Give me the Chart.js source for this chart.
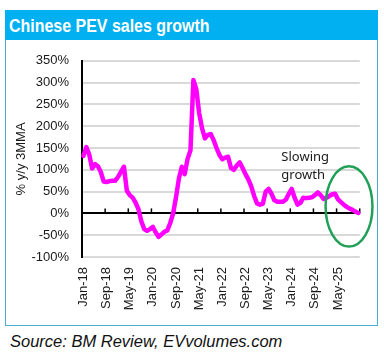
<!DOCTYPE html>
<html>
<head>
<meta charset="utf-8">
<script src="https://cdn.jsdelivr.net/npm/chart.js@4.4.0/dist/chart.umd.min.js"></script>
<style>
  body { margin: 0; background: #fff; width: 384px; height: 358px; position: relative; overflow: hidden; font-family: "Liberation Sans", Arial, sans-serif; }
  #box { position: absolute; left: 5px; top: 10px; width: 373px; height: 316px; box-sizing: border-box; border: 1px solid #4aaed0; }
  #hdr { position: absolute; left: 5px; top: 10px; width: 373px; height: 30px; background: #00b0f0; }
  #hdr span { position: absolute; left: 4px; top: 1px; line-height: 30px; font-size: 19px; font-weight: bold; color: #fff; white-space: nowrap; transform: scaleX(0.84); transform-origin: left center; }
  #src { position: absolute; left: 10px; top: 331px; line-height: 20px; font-size: 16.5px; font-style: italic; color: #111; white-space: nowrap; }
  #c { position: absolute; left: 0; top: 40px; }
</style>
</head>
<body>
<div id="box"></div>
<div id="hdr"><span>Chinese PEV sales growth</span></div>
<canvas id="c" width="384" height="285"></canvas>
<div id="src">Source: BM Review, EVvolumes.com</div>
<script>
// months Jan-18 .. Dec-25
const monthNames = ['Jan','Feb','Mar','Apr','May','Jun','Jul','Aug','Sep','Oct','Nov','Dec'];
const years = [18, 19, 20, 21, 22, 23, 24, 25];
const labels = [];
years.forEach(y => monthNames.forEach(m => labels.push(m + '-' + y)));

// shown every 8 months
const tickLabels = ['Jan-18','Sep-18','May-19','Jan-20','Sep-20','May-21','Jan-22','Sep-22','May-23','Jan-24','Sep-24','May-25'];

// % y/y, 3 month moving average
const growth = [
  132, 152, 135, 103, 113, 108, 95, 73, 72, 74, 75, 75,
  84, 96, 107, 52, 42, 36, 25, 10, -18, -36, -40, -36,
  -31, -44, -54, -48, -42, -39, -22, 0, 37, 80, 107, 90,
  125, 145, 306, 285, 230, 195, 172, 180, 182, 168, 150, 134,
  124, 128, 130, 104, 100, 110, 117, 104, 90, 78, 62, 40,
  23, 20, 22, 50, 56, 45, 30, 27, 27, 27, 32, 45,
  56, 36, 20, 24, 36, 35, 36, 37, 42, 48, 42, 33,
  36, 40, 44, 45, 32, 26, 20, 15, 11, 8, 4, 1
];

const yTicks = { min: -100, max: 350, step: 50 };

// annotation, in data units (category index, % value)
const noteText = ['Slowing', 'growth'];
const notePos = { x: 68.4, y: [120, 80] };
const ring = { x: 91.8, y: 16, rx: 8.1, ry: 92 };

const axisTicks = {
  id: 'axisTicks',
  beforeDatasetsDraw(chart) {
    const { ctx, scales: { x, y } } = chart;
    const y0 = y.getPixelForValue(0);
    const half = (x.getPixelForValue(1) - x.getPixelForValue(0)) / 2;
    ctx.save();
    ctx.strokeStyle = '#000';
    ctx.lineWidth = 1.5;
    for (let i = 8; i <= labels.length; i += 8) {
      const px = x.getPixelForValue(i) - half;
      ctx.beginPath();
      ctx.moveTo(px, y0);
      ctx.lineTo(px, y0 - 5);
      ctx.stroke();
    }
    ctx.restore();
  }
};

const notes = {
  id: 'notes',
  afterDraw(chart) {
    const { ctx, scales: { x, y } } = chart;
    ctx.save();
    ctx.fillStyle = '#1a1a1a';
    ctx.font = '13px "Noto Sans"';
    ctx.textAlign = 'left';
    ctx.textBaseline = 'alphabetic';
    noteText.forEach((t, k) => ctx.fillText(t, x.getPixelForValue(notePos.x), y.getPixelForValue(notePos.y[k])));
    const cx = x.getPixelForValue(ring.x);
    const cy = y.getPixelForValue(ring.y);
    const rx = x.getPixelForValue(ring.x + ring.rx) - cx;
    const ry = cy - y.getPixelForValue(ring.y + ring.ry);
    ctx.strokeStyle = '#22a05a';
    ctx.lineWidth = 2.5;
    ctx.beginPath();
    ctx.ellipse(cx, cy, rx, ry, 0, 0, Math.PI * 2);
    ctx.stroke();
    ctx.restore();
  }
};

new Chart(document.getElementById('c'), {
  type: 'line',
  data: {
    labels: labels,
    datasets: [{
      data: growth,
      borderColor: '#ff00ff',
      borderWidth: 4.5,
      pointRadius: 0,
      tension: 0,
      borderJoinStyle: 'round',
      borderCapStyle: 'round',
      fill: false
    }]
  },
  options: {
    responsive: false,
    animation: false,
    devicePixelRatio: 1,
    layout: { padding: { top: 19, right: 23, left: 0, bottom: 0 } },
    plugins: { legend: { display: false }, tooltip: { enabled: false } },
    scales: {
      x: {
        offset: true,
        grid: { display: false, drawTicks: false },
        border: { display: false },
        ticks: {
          autoSkip: false,
          minRotation: 90,
          maxRotation: 90,
          padding: 10,
          color: '#1a1a1a',
          font: { family: '"Liberation Sans", Arial', size: 13 },
          callback: (v, i) => (i % 8 === 0 ? tickLabels[i / 8] : '')
        },
        afterFit: s => { s.height = 68; }
      },
      y: {
        min: yTicks.min,
        max: yTicks.max,
        ticks: {
          stepSize: yTicks.step,
          padding: 13,
          color: '#1a1a1a',
          font: { family: '"Liberation Sans", Arial', size: 13 },
          callback: v => v + '%'
        },
        grid: {
          drawTicks: false,
          color: c => (c.tick && c.tick.value === 0 ? '#000' : '#d9d9d9'),
          lineWidth: 2
        },
        border: { color: '#000', width: 2 },
        title: {
          display: true,
          text: '% y/y 3MMA',
          color: '#1a1a1a',
          font: { family: '"Liberation Sans", Arial', size: 13 },
          padding: { top: 14, bottom: 0 }
        },
        afterFit: s => { s.width = 82; }
      }
    }
  },
  plugins: [axisTicks, notes]
});
</script>
</body>
</html>
